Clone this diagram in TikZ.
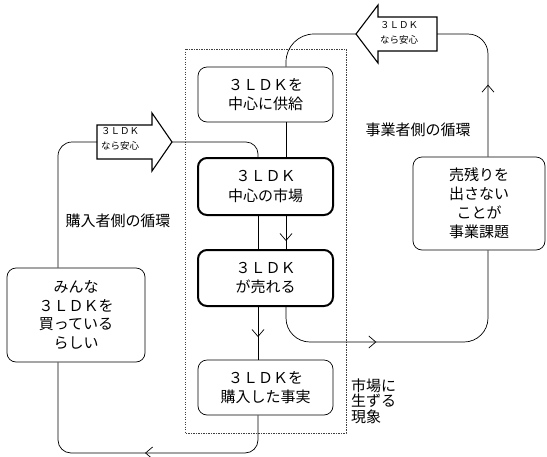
\documentclass[tikz,border=0pt]{standalone}
\usepackage{fontspec}
\setmainfont{Noto Sans CJK JP}
\usetikzlibrary{arrows.meta,decorations.markings,calc}
\tikzset{
  box/.style={draw, rounded corners=9pt, line width=0.7pt, minimum width=135pt, align=center,
    font=\fontsize{15pt}{19.5pt}\selectfont, inner sep=0pt},
  thickbox/.style={box, line width=2pt},
  conn/.style={line width=0.7pt},
  blockarrow/.style={draw, line width=1.1pt, line join=miter, fill=white},
  arrtext/.style={align=center, font=\fontsize{9.5pt}{15pt}\selectfont, inner sep=0pt},
  lbl/.style={font=\fontsize{15pt}{15.5pt}\selectfont, inner sep=0pt},
  arrowat/.style={postaction={decorate}, decoration={markings,
    mark=at position #1 with {\arrow{Straight Barb[length=7pt,width=12pt]}}}},
  dotbox/.style={draw=black!75, line width=0.6pt, dash pattern=on 1.2pt off 1.3pt}
}
\begin{document}
\begin{tikzpicture}[x=1pt,y=-1pt]
\useasboundingbox (0,0) rectangle (547,456);

% dotted frame
\draw[dotbox] (185,49) rectangle (346,433);

% boxes
\node[box, minimum height=55pt] (A) at (265.5,94.5) {３ＬＤＫを\\中心に供給};
\node[thickbox, minimum height=57pt] (B) at (265.5,186.5) {３ＬＤＫ\\中心の市場};
\node[thickbox, minimum height=56pt] (C) at (265.5,278) {３ＬＤＫ\\が売れる};
\node[box, minimum height=55pt] (D) at (265.5,387.5) {３ＬＤＫを\\購入した事実};
\node[box, minimum width=138pt, minimum height=94pt, font=\fontsize{15pt}{18.5pt}\selectfont] (E) at (76,315) {みんな\\３ＬＤＫを\\買っている\\らしい};
\node[box, minimum width=132pt, minimum height=93pt, font=\fontsize{15pt}{19pt}\selectfont] (F) at (479,203.5) {売残りを\\出さない\\ことが\\事業課題};

% helper coordinates
\coordinate (bx) at (258,0);
\coordinate (sx) at (286,0);
\coordinate (ex) at (58,0);
\coordinate (fx) at (488,0);
\coordinate (bl) at (0,453);
\coordinate (rl) at (0,342);

% block arrows
\draw[blockarrow] (97,125) -- (152,125) -- (152,113) -- (172,142) -- (152,171) -- (152,159) -- (97,159) -- cycle;
\coordinate (LAtail) at (97,142);
\coordinate (LAtip) at (172,142);
\node[arrtext] (LAt) at (120,139) {３ＬＤＫ\\なら安心};

\draw[blockarrow] (437,17) -- (378,17) -- (378,5) -- (356,34) -- (378,63) -- (378,51) -- (437,51) -- cycle;
\coordinate (RAtail) at (437,34);
\coordinate (RAtip) at (356,34);
\node[arrtext] (RAt) at (399,33) {３ＬＤＫ\\なら安心};

% buyer loop
\draw[conn, rounded corners=14pt] ([xshift=-18pt]E.north) |- (LAtail);
\draw[conn, rounded corners=12pt] (LAtip) -| (B.north -| bx);
\draw[conn] (B.south -| bx) -- (C.north -| bx);
\draw[conn, arrowat=30pt] (C.south -| bx) -- (D.north -| bx);
\draw[conn, rounded corners=13pt, arrowat=145pt] (D.south -| bx) -- (bx |- bl) -- (ex |- bl) -- (E.south -| ex);

% seller loop
\draw[conn, rounded corners=20pt, arrowat=72pt] (F.north -| fx) |- (RAtail);
\draw[conn, rounded corners=28pt] (RAtip) -| (A.north -| sx);
\draw[conn] (A.south -| sx) -- (B.north -| sx);
\draw[conn, arrowat=25pt] (B.south -| sx) -- (C.north -| sx);
\draw[conn, rounded corners=24pt, arrowat=115pt] (C.south -| sx) -- (sx |- rl) -- (fx |- rl) -- (F.south -| fx);

% labels
\node[lbl] (L1) at (418,130) {事業者側の循環};
\node[lbl] (L2) at (118,221) {購入者側の循環};
\node[lbl, align=left, anchor=west] (L3) at (351,401) {市場に\\生ずる\\現象};
\end{tikzpicture}
\end{document}
